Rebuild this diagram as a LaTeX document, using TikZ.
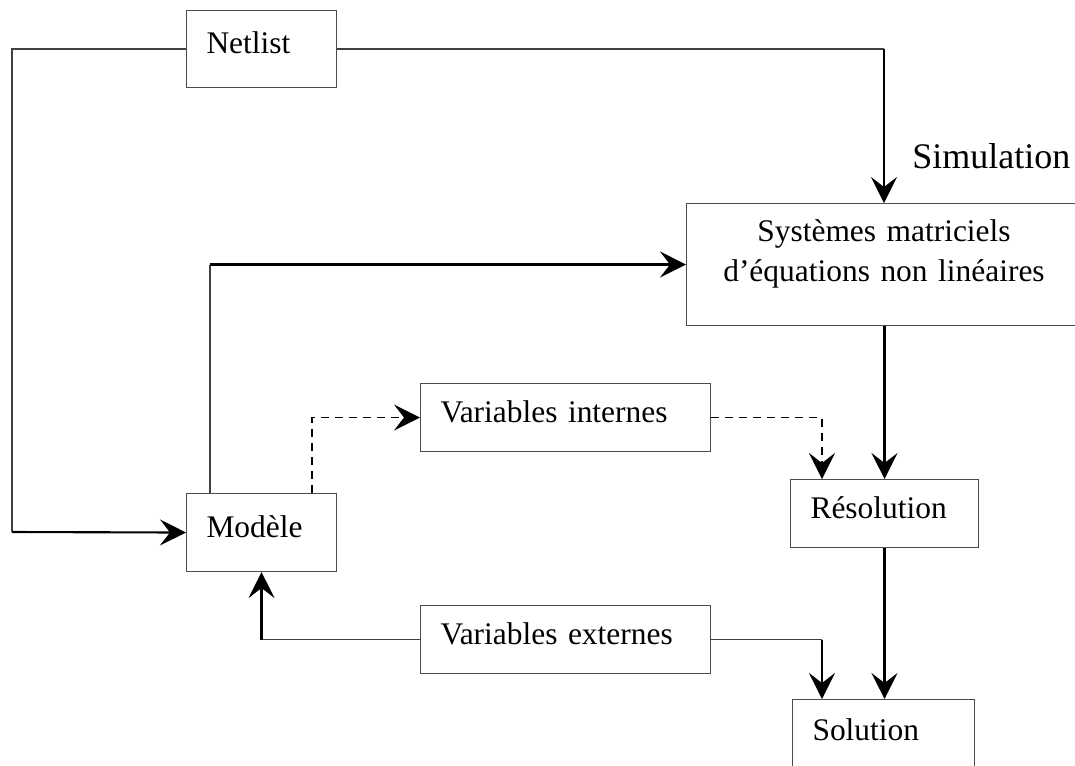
\documentclass[tikz,border=0pt]{standalone}
\usepackage{fontspec}
\setmainfont{Liberation Serif}
\usepackage{tikz}
\usetikzlibrary{arrows.meta, positioning}

\tikzset{
  blk/.style={draw=black!70, line width=0.6pt, anchor=north west, align=left,
    inner xsep=0.4cm, inner ysep=0pt, text depth=0.25cm},
  thinln/.style={black!75, line width=0.6pt},
  arr/.style={line width=1.2pt, -{Stealth[length=0.52cm, width=0.52cm, inset=0.2cm]}},
  dsh/.style={line width=1pt, dash pattern=on 4.5pt off 3.5pt,
    -{Stealth[length=0.52cm, width=0.52cm, inset=0.2cm]}}
}

\begin{document}
\begin{tikzpicture}[x=0.02cm, y=-0.02cm, font=\fontsize{17.9}{22.7}\selectfont]
	\useasboundingbox (0,0) rectangle (1075,765);
	% blocks
	\node[blk, text width=2.2cm, minimum height=1.54cm] (netlist) at (186,10) {Netlist};
	\node[blk, align=center, text width=7.1cm, minimum height=2.44cm, text depth=1.35cm]
	(sys) at (686,203) {Systèmes matriciels\\d’équations non linéaires};
	\node[anchor=base west, inner sep=0pt, font=\fontsize{20.5}{24}\selectfont]
	(simlabel) at (912,168) {Simulation};
	\node[blk, text width=5cm, minimum height=1.36cm] (vint) at (420,383) {Variables internes};
	\node[blk, text width=2.96cm, minimum height=1.36cm] (res) at (790,479) {Résolution};
	\node[blk, text width=2.2cm, minimum height=1.56cm] (modele) at (186,493) {Modèle};
	\node[blk, text width=5cm, minimum height=1.36cm] (vext) at (420,605) {Variables externes};
	\node[blk, text width=2.84cm, minimum height=1.44cm] (sol) at (792,699) {Solution};
	% netlist links
	\draw[thinln] (netlist.west) -| (12,532) coordinate (nlB);
	\draw[arr] (nlB) -- (modele.west);
	\draw[thinln] (netlist.east) -- (netlist.east -| sys.north) coordinate (nlC);
	\draw[arr] (nlC) -- (sys.north);
	% modele links
	\coordinate (mA) at ([xshift=0.48cm]modele.north west);
	\draw[thinln] (mA) -- (mA |- sys.west) coordinate (mB);
	\draw[arr] (mB) -- (sys.west);
	\draw[dsh] ([xshift=2.52cm]modele.north west) |- (vint.west);
	\draw[dsh] (vint.east) -| ([xshift=0.64cm]res.north west);
	% solving
	\draw[arr] (sys.south -| res.north) -- (res.north);
	\draw[arr] (res.south) -- (res.south |- sol.north);
	% external variables
	\draw[thinln] (vext.west) -- (vext.west -| modele.south) coordinate (vB);
	\draw[arr] (vB) -- (modele.south);
	\coordinate (sC) at ([xshift=0.6cm]sol.north west);
	\draw[thinln] (vext.east) -- (vext.east -| sC) coordinate (vC);
	\draw[arr] (vC) -- (sC);
\end{tikzpicture}
\end{document}
